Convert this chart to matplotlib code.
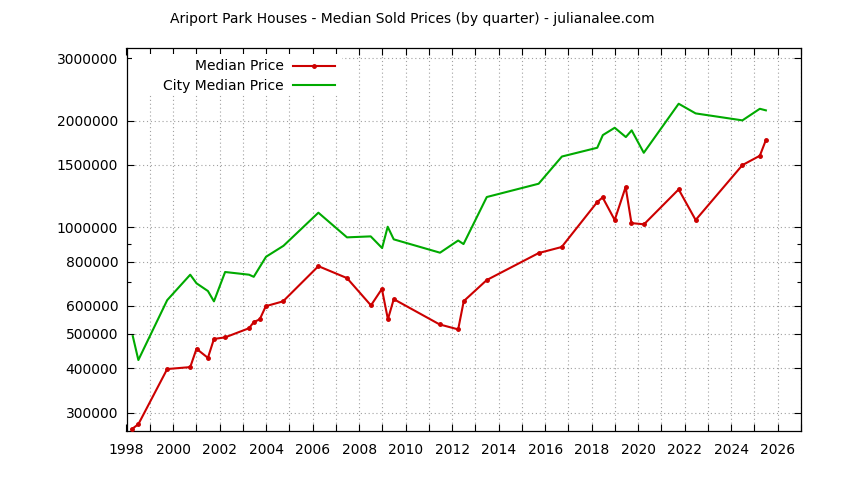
import matplotlib
matplotlib.use("Agg")
import matplotlib.pyplot as plt
from matplotlib.patches import Rectangle
from matplotlib.ticker import FixedLocator, NullFormatter

# Median Price (red, with points)
years = [1998.22, 1998.51, 1999.75, 2000.74, 2001.01, 2001.50, 2001.76, 2002.24,
         2003.27, 2003.47, 2003.73, 2003.99, 2004.73, 2006.25, 2007.48, 2008.51,
         2008.98, 2009.24, 2009.49, 2011.46, 2012.26, 2012.50, 2013.49, 2015.72,
         2016.71, 2018.24, 2018.47, 2018.99, 2019.46, 2019.71, 2020.25, 2021.74,
         2022.47, 2024.48, 2025.23, 2025.49]
median_price = [269000, 278000, 398000, 403000, 454000, 428000, 484000, 489000,
                519000, 540000, 550000, 599000, 618000, 777000, 719000, 602000,
                670000, 550000, 627000, 532000, 515000, 619000, 710000, 846000,
                880000, 1179000, 1215000, 1049000, 1300000, 1028000, 1020000, 1280000,
                1049000, 1499000, 1593000, 1764000]

# City Median Price (green)
city_years = [1998.27, 1998.51, 1999.75, 2000.74, 2001.01, 2001.50, 2001.76, 2002.24,
              2003.27, 2003.47, 2004.00, 2004.75, 2006.25, 2007.48, 2008.50, 2008.99,
              2009.23, 2009.49, 2011.48, 2012.26, 2012.49, 2013.49, 2015.72, 2016.72,
              2018.24, 2018.48, 2018.99, 2019.47, 2019.72, 2020.24, 2021.74, 2022.47,
              2024.48, 2025.23, 2025.49]
city_price = [493000, 422000, 623000, 735000, 695000, 661000, 618000, 748000,
              735000, 725000, 826000, 887000, 1100000, 937000, 943000, 874000,
              1004000, 925000, 848000, 918000, 897000, 1218000, 1328000, 1585000,
              1678000, 1822000, 1911000, 1799000, 1879000, 1624000, 2234000, 2098000,
              2005000, 2162000, 2140000]

ytick_vals = [300000, 400000, 500000, 600000, 800000, 1000000, 1500000, 2000000, 3000000]
ytick_minor = [700000, 900000]
xtick_vals = list(range(1998, 2028))

title = "Ariport Park Houses - Median Sold Prices (by quarter) - julianalee.com"

plt.rcParams['font.family'] = ['DejaVu Sans']
fig = plt.figure(figsize=(8.44, 4.8), dpi=100)
ax = fig.add_axes([126.5 / 844, 49 / 480, 674.5 / 844, 383 / 480])

ax.plot(years, median_price, color='#cc0000', lw=1.5, marker='o', ms=2.5,
        label='Median Price', zorder=3)
ax.plot(city_years, city_price, color='#00aa00', lw=1.5, label='City Median Price',
        zorder=3)

ax.set_yscale('log')
ax.set_ylim(266000, 3210000)
ax.set_xlim(1998, 2027)

ax.yaxis.set_major_locator(FixedLocator(ytick_vals))
ax.yaxis.set_major_formatter(plt.FixedFormatter([str(v) for v in ytick_vals]))
ax.yaxis.set_minor_locator(FixedLocator(ytick_minor))
ax.yaxis.set_minor_formatter(NullFormatter())
ax.set_xticks(xtick_vals)
ax.set_xticklabels([str(y) if y % 2 == 0 else '' for y in xtick_vals])

ax.tick_params(which='major', direction='in', length=5, width=0.8, top=True,
               right=True, labelsize=10, colors='black')
ax.tick_params(which='minor', direction='in', length=3, width=0.8, top=True,
               right=True)
ax.tick_params(axis='y', pad=6)
ax.tick_params(axis='x', pad=9)

ax.set_axisbelow(True)
ax.grid(True, which='major', color='#a0a0a0', linestyle=(0, (1, 2.5)), linewidth=0.8)
for s in ax.spines.values():
    s.set_linewidth(0.9)

# opaque key area like gnuplot
ax.add_patch(Rectangle((0.008, 0.877), 0.3115, 0.108, transform=ax.transAxes,
                       facecolor='white', edgecolor='none', zorder=1))

ax.legend(loc='upper right', bbox_to_anchor=(0.309, 0.970), frameon=False,
          markerfirst=False, borderpad=0, borderaxespad=0, handlelength=3.0,
          handletextpad=0.7, labelspacing=0.4, fontsize=10)

fig.text(412 / 844, 1 - 19 / 480, title, ha='center', va='center', fontsize=10)

fig.savefig('out.png', dpi=100)
